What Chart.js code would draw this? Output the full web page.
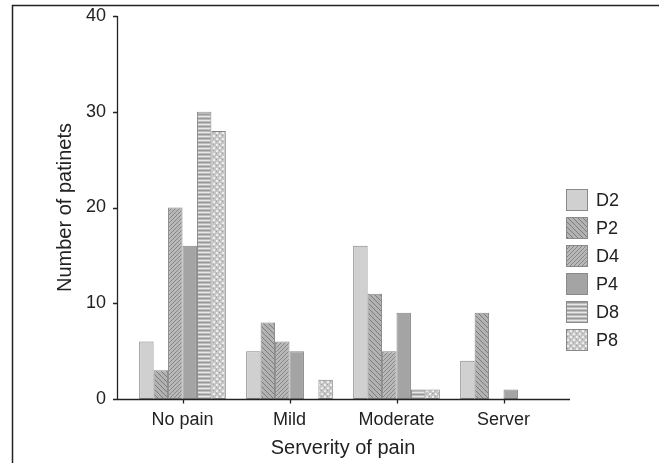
<!DOCTYPE html>
<html>
<head>
<meta charset="utf-8">
<script src="https://cdn.jsdelivr.net/npm/chart.js@4.4.1/dist/chart.umd.min.js"></script>
<style>
  html, body { margin: 0; padding: 0; background: #fff; }
  #wrap { position: relative; width: 659px; height: 463px; }
</style>
</head>
<body>
<div id="wrap"><canvas id="painChart" width="659" height="463"></canvas></div>
<script>
// values
const categories = ['No pain', 'Mild', 'Moderate', 'Server'];
const seriesNames = ['D2', 'P2', 'D4', 'P4', 'D8', 'P8'];
const d2 = [6, 5, 16, 4];
const p2 = [3, 8, 11, 9];
const d4 = [20, 6, 5, 0];
const p4 = [16, 5, 9, 1];
const d8 = [30, 0, 1, 0];
const p8 = [28, 2, 1, 0];
const yTicks = [0, 10, 20, 30, 40];

const FONT = '"Liberation Sans", Arial, Helvetica, sans-serif';
const INK = '#222';

const canvas = document.getElementById('painChart');
const ctx0 = canvas.getContext('2d');

// small tiles for the grey fill patterns
function makePattern(size, paint) {
  const tile = document.createElement('canvas');
  tile.width = size;
  tile.height = size;
  const t = tile.getContext('2d');
  paint(t, size);
  return ctx0.createPattern(tile, 'repeat');
}

const fills = [
  '#d0d0d0',
  makePattern(5, (t, s) => {
    t.fillStyle = '#b2b2b2'; t.fillRect(0, 0, s, s);
    t.fillStyle = '#7c7c7c';
    for (let i = 0; i < s; i++) t.fillRect(i, i, 1, 1);
  }),
  makePattern(4, (t, s) => {
    t.fillStyle = '#b8b8b8'; t.fillRect(0, 0, s, s);
    t.fillStyle = '#888';
    for (let i = 0; i < s; i++) t.fillRect(s - 1 - i, i, 1, 1);
  }),
  '#a4a4a4',
  makePattern(4, (t, s) => {
    t.fillStyle = '#bcbcbc'; t.fillRect(0, 0, s, s);
    t.fillStyle = '#e8e8e8'; t.fillRect(0, 0, s, 1);
    t.fillStyle = '#9a9a9a'; t.fillRect(0, 2, s, 1);
  }),
  makePattern(6, (t, s) => {
    t.fillStyle = '#c6c6c6'; t.fillRect(0, 0, s, s);
    t.fillStyle = '#eeeeee';
    t.fillRect(0, 0, 2, 2); t.fillRect(3, 3, 2, 2);
    t.fillStyle = '#9c9c9c';
    t.fillRect(3, 0, 1, 1); t.fillRect(0, 3, 1, 1);
  })
];

const seriesValues = [d2, p2, d4, p4, d8, p8];

const axesPlugin = {
  id: 'paperAxes',
  afterDatasetsDraw(chart) {
    const { ctx, chartArea, scales } = chart;
    const axisX = chartArea.left - 12;
    const base = Math.round(chartArea.bottom) + 0.5;
    ctx.save();
    ctx.strokeStyle = INK;
    ctx.lineWidth = 1.3;
    ctx.beginPath();
    // y axis with outside tick marks
    ctx.moveTo(axisX + 0.5, chartArea.top);
    ctx.lineTo(axisX + 0.5, base);
    yTicks.forEach((v) => {
      const py = Math.round(scales.y.getPixelForValue(v)) + 0.5;
      ctx.moveTo(axisX - 4, py);
      ctx.lineTo(axisX + 0.5, py);
    });
    // x axis, a little longer than the categories
    ctx.moveTo(axisX, base);
    ctx.lineTo(chartArea.right + 13, base);
    categories.forEach((c, i) => {
      const px = Math.round(scales.x.getPixelForValue(i)) + 0.5;
      ctx.moveTo(px, base);
      ctx.lineTo(px, base + 4);
    });
    ctx.stroke();
    ctx.restore();
  },
  afterDraw(chart) {
    const { ctx, chartArea } = chart;
    // page frame
    ctx.save();
    ctx.strokeStyle = INK;
    ctx.lineWidth = 1.5;
    ctx.beginPath();
    ctx.moveTo(12.5, chart.height);
    ctx.lineTo(12.5, 5.5);
    ctx.lineTo(chart.width, 5.5);
    ctx.stroke();

    // legend on the right
    const x0 = chartArea.right + 9;
    const y0 = chartArea.top + 173;
    ctx.font = '18px ' + FONT;
    ctx.textAlign = 'left';
    ctx.textBaseline = 'middle';
    chart.data.datasets.forEach((ds, i) => {
      const y = y0 + i * 28;
      ctx.fillStyle = ds.backgroundColor;
      ctx.fillRect(x0, y, 22, 22);
      ctx.strokeStyle = '#8a8a8a';
      ctx.lineWidth = 1;
      ctx.strokeRect(x0 + 0.5, y + 0.5, 21, 21);
      ctx.fillStyle = INK;
      ctx.fillText(ds.label, x0 + 30, y + 12);
    });
    ctx.restore();
  }
};

new Chart(canvas, {
  type: 'bar',
  data: {
    labels: categories,
    datasets: seriesNames.map((name, i) => ({
      label: name,
      data: seriesValues[i],
      backgroundColor: fills[i],
      borderColor: '#858585',
      borderWidth: 1,
      borderSkipped: false,
      barPercentage: 1,
      categoryPercentage: 0.81
    }))
  },
  options: {
    responsive: false,
    animation: false,
    devicePixelRatio: 1,
    layout: { padding: { top: 16, right: 102, left: 0, bottom: 0 } },
    plugins: {
      legend: { display: false },
      tooltip: { enabled: false }
    },
    scales: {
      x: {
        grid: { display: false, drawTicks: false },
        border: { display: false },
        ticks: { color: INK, font: { family: FONT, size: 18 }, padding: 10, maxRotation: 0 },
        title: {
          display: true,
          text: 'Serverity of pain',
          color: INK,
          font: { family: FONT, size: 20 },
          padding: { top: 0, bottom: 3 }
        },
        afterFit(scale) { scale.height = 64; }
      },
      y: {
        min: 0,
        max: 40,
        grid: { display: false, drawTicks: false },
        border: { display: false },
        ticks: { stepSize: 10, color: INK, font: { family: FONT, size: 18 }, padding: 23 },
        afterBuildTicks(scale) { scale.ticks = yTicks.map((v) => ({ value: v })); },
        title: {
          display: true,
          text: 'Number of patinets',
          color: INK,
          font: { family: FONT, size: 20 },
          padding: { top: 53, bottom: 0 }
        },
        afterFit(scale) {
          scale.width = 129;
          scale.paddingTop = 0;
          scale.paddingBottom = 0;
        }
      }
    }
  },
  plugins: [axesPlugin]
});
</script>
</body>
</html>
